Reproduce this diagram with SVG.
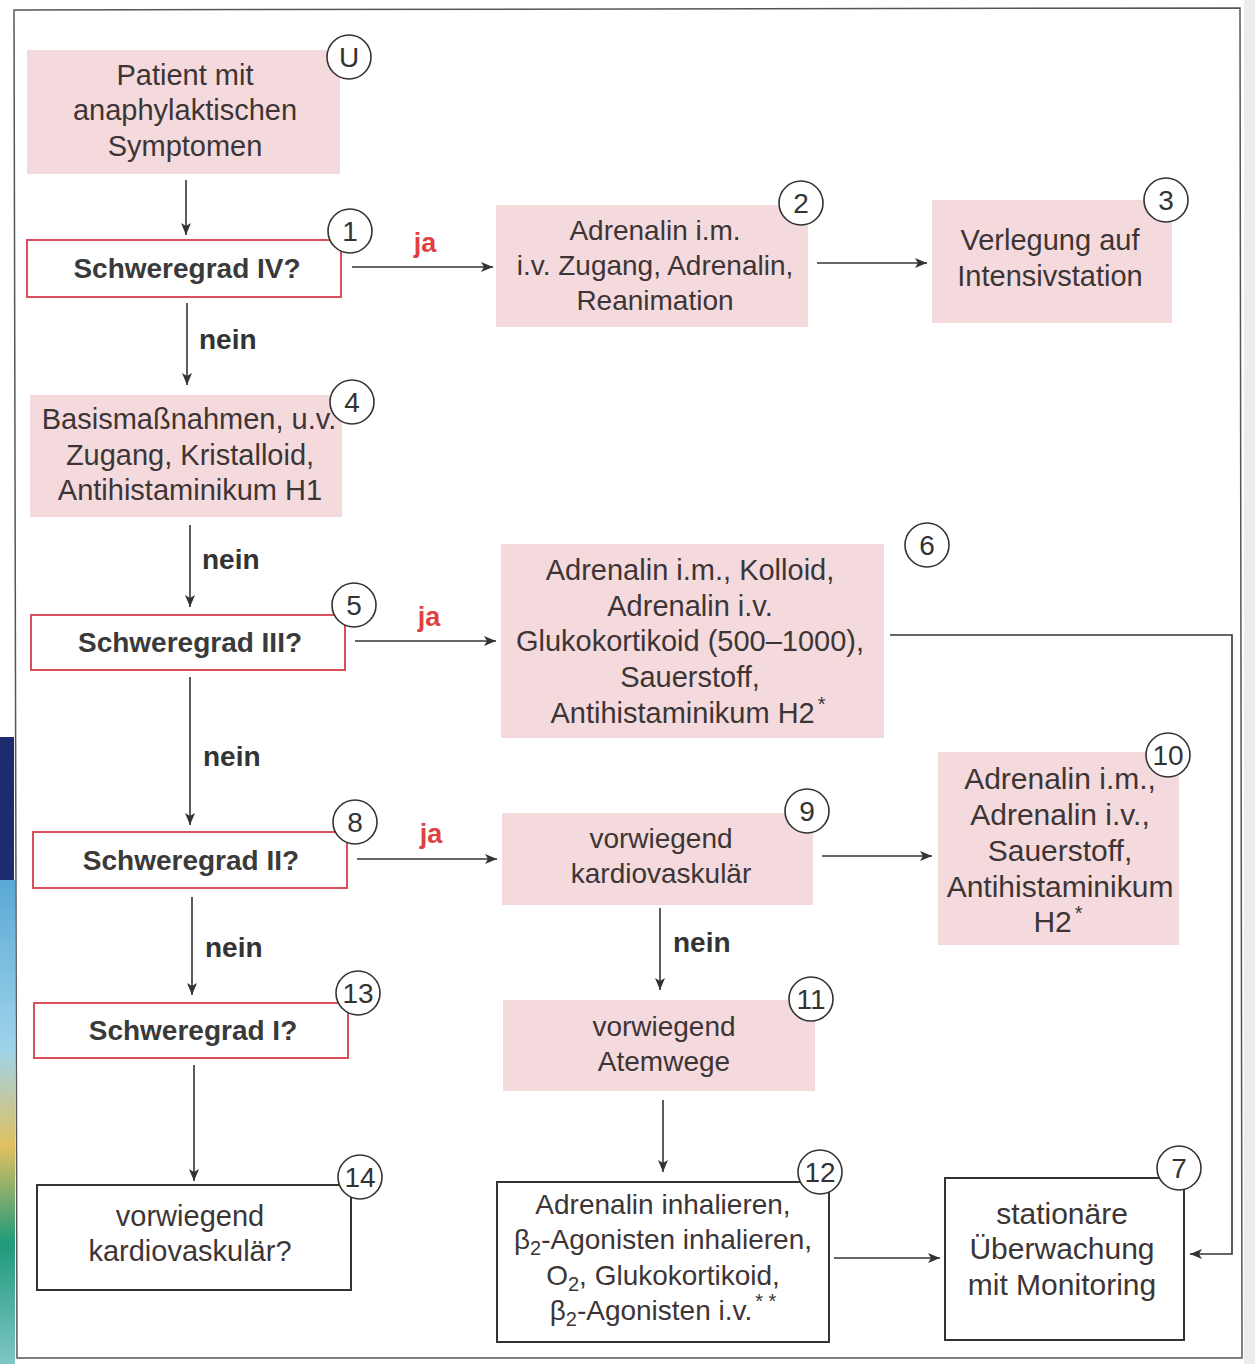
<svg xmlns="http://www.w3.org/2000/svg" width="1255" height="1364" viewBox="0 0 1255 1364">
<defs>
<marker id="ah" viewBox="0 0 12 10" refX="12" refY="5" markerWidth="12" markerHeight="10" markerUnits="userSpaceOnUse" orient="auto">
<path d="M0,0 L12,5 L0,10 L3,5 z" fill="#333"/>
</marker>
<linearGradient id="lg" x1="0" y1="0" x2="0" y2="1">
<stop offset="0" stop-color="#5aa9d6"/>
<stop offset="0.35" stop-color="#9fd3ea"/>
<stop offset="0.55" stop-color="#e0c060"/>
<stop offset="0.75" stop-color="#1f9a7a"/>
<stop offset="1" stop-color="#7fc6c8"/>
</linearGradient>
<style>
.pink{fill:#f4dadd;stroke:none}
.red{fill:#fff;stroke:#d9505a;stroke-width:2}
.wb{fill:#fff;stroke:#333;stroke-width:2}
.t{font-family:"Liberation Sans",Arial,sans-serif;font-size:28px;fill:#3d3535;text-anchor:middle}
.t29{font-size:29px}
.t30{font-size:30px}
.tw{font-family:"Liberation Sans",Arial,sans-serif;font-size:29px;fill:#3d3535;text-anchor:middle}
.b{font-family:"Liberation Sans",Arial,sans-serif;font-weight:bold;font-size:28px;fill:#3a3a3a;text-anchor:middle}
.lab{font-family:"Liberation Sans",Arial,sans-serif;font-weight:bold;font-size:28px;fill:#333}
.ja{font-family:"Liberation Sans",Arial,sans-serif;font-weight:bold;font-size:27px;fill:#e04040;text-anchor:middle}
.c{fill:#fff;stroke:#333;stroke-width:1.6}
.n{font-family:"Liberation Sans",Arial,sans-serif;font-size:28px;fill:#333;text-anchor:middle}
.ln{fill:none;stroke:#333;stroke-width:1.6}
</style>
</defs>
<rect width="1255" height="1364" fill="#ffffff"/>
<rect x="0" y="737" width="14" height="143" fill="#1c2c6e"/>
<rect x="0" y="880" width="15" height="484" fill="url(#lg)"/>
<rect x="1244" y="0" width="11" height="1364" fill="#ececec"/>
<path d="M14,10 L1240,8 L1242,1358 L17,1358 Z" fill="none" stroke="#555" stroke-width="1.5"/>

<g id="connectors">
<line class="ln" x1="186" y1="180" x2="186" y2="235" marker-end="url(#ah)"/>
<line class="ln" x1="352" y1="267" x2="493" y2="267" marker-end="url(#ah)"/>
<text class="ja" x="425" y="252">ja</text>
<line class="ln" x1="817" y1="263" x2="927" y2="263" marker-end="url(#ah)"/>
<line class="ln" x1="187" y1="303" x2="187" y2="385" marker-end="url(#ah)"/>
<text class="lab" x="199" y="349">nein</text>
<line class="ln" x1="190" y1="525" x2="190" y2="607" marker-end="url(#ah)"/>
<text class="lab" x="202" y="569">nein</text>
<line class="ln" x1="355" y1="641" x2="496" y2="641" marker-end="url(#ah)"/>
<text class="ja" x="429" y="626">ja</text>
<polyline class="ln" points="890,635 1232,635 1232,1254 1190,1254" marker-end="url(#ah)"/>
<line class="ln" x1="190" y1="677" x2="190" y2="825" marker-end="url(#ah)"/>
<text class="lab" x="203" y="766">nein</text>
<line class="ln" x1="357" y1="859" x2="497" y2="859" marker-end="url(#ah)"/>
<text class="ja" x="431" y="843">ja</text>
<line class="ln" x1="822" y1="856" x2="932" y2="856" marker-end="url(#ah)"/>
<line class="ln" x1="660" y1="908" x2="660" y2="990" marker-end="url(#ah)"/>
<text class="lab" x="673" y="952">nein</text>
<line class="ln" x1="663" y1="1100" x2="663" y2="1172" marker-end="url(#ah)"/>
<line class="ln" x1="834" y1="1258" x2="940" y2="1258" marker-end="url(#ah)"/>
<line class="ln" x1="192" y1="897" x2="192" y2="995" marker-end="url(#ah)"/>
<text class="lab" x="205" y="957">nein</text>
<line class="ln" x1="194" y1="1065" x2="194" y2="1181" marker-end="url(#ah)"/>
</g>

<g id="nodeU">
<rect class="pink" x="27" y="50" width="313" height="124"/>
<text class="tw" x="185" y="85">Patient mit</text>
<text class="tw" x="185" y="120">anaphylaktischen</text>
<text class="tw" x="185" y="156">Symptomen</text>
<circle class="c" cx="349" cy="57" r="22"/><text class="n" x="349" y="67">U</text>
</g>
<g id="node1">
<rect class="red" x="27" y="240" width="314" height="57"/>
<text class="b" x="187" y="278">Schweregrad IV?</text>
<circle class="c" cx="350" cy="231" r="22"/><text class="n" x="350" y="241">1</text>
</g>
<g id="node2">
<rect class="pink" x="496" y="205" width="312" height="122"/>
<text class="t" x="655" y="240">Adrenalin i.m.</text>
<text class="t" x="655" y="275">i.v. Zugang, Adrenalin,</text>
<text class="t" x="655" y="310">Reanimation</text>
<circle class="c" cx="801" cy="203" r="22"/><text class="n" x="801" y="213">2</text>
</g>
<g id="node3">
<rect class="pink" x="932" y="200" width="240" height="123"/>
<text class="t t29" x="1050" y="250">Verlegung auf</text>
<text class="t t29" x="1050" y="286">Intensivstation</text>
<circle class="c" cx="1166" cy="200" r="22"/><text class="n" x="1166" y="210">3</text>
</g>
<g id="node4">
<rect class="pink" x="30" y="395" width="312" height="122"/>
<text class="tw" x="189" y="429" font-size="28">Basismaßnahmen, u.v.</text>
<text class="tw" x="190" y="465">Zugang, Kristalloid,</text>
<text class="tw" x="190" y="500">Antihistaminikum H1</text>
<circle class="c" cx="352" cy="402" r="22"/><text class="n" x="352" y="412">4</text>
</g>
<g id="node5">
<rect class="red" x="31" y="615" width="314" height="55"/>
<text class="b" x="190" y="652">Schweregrad III?</text>
<circle class="c" cx="354" cy="605" r="22"/><text class="n" x="354" y="615">5</text>
</g>
<g id="node6">
<rect class="pink" x="501" y="544" width="383" height="194"/>
<text class="t t29" x="690" y="580">Adrenalin i.m., Kolloid,</text>
<text class="t t29" x="690" y="616">Adrenalin i.v.</text>
<text class="t t29" x="690" y="651">Glukokortikoid (500–1000),</text>
<text class="t t29" x="690" y="687">Sauerstoff,</text>
<text class="t t29" x="688" y="723">Antihistaminikum H2<tspan font-size="20" dx="3" dy="-12">*</tspan></text>
<circle class="c" cx="927" cy="545" r="22"/><text class="n" x="927" y="555">6</text>
</g>
<g id="node7">
<rect class="wb" x="945" y="1178" width="239" height="162"/>
<text class="t t30" x="1062" y="1224">stationäre</text>
<text class="t t30" x="1062" y="1259">Überwachung</text>
<text class="t t30" x="1062" y="1295">mit Monitoring</text>
<circle class="c" cx="1179" cy="1168" r="22"/><text class="n" x="1179" y="1178">7</text>
</g>
<g id="node8">
<rect class="red" x="33" y="832" width="314" height="56"/>
<text class="b" x="191" y="870">Schweregrad II?</text>
<circle class="c" cx="355" cy="822" r="22"/><text class="n" x="355" y="832">8</text>
</g>
<g id="node9">
<rect class="pink" x="502" y="813" width="311" height="92"/>
<text class="t" x="661" y="848">vorwiegend</text>
<text class="t" x="661" y="883">kardiovaskulär</text>
<circle class="c" cx="807" cy="811" r="22"/><text class="n" x="807" y="821">9</text>
</g>
<g id="node10">
<rect class="pink" x="938" y="752" width="241" height="193"/>
<text class="t t30" x="1060" y="789">Adrenalin i.m.,</text>
<text class="t t30" x="1060" y="825">Adrenalin i.v.,</text>
<text class="t t30" x="1060" y="861">Sauerstoff,</text>
<text class="t t30" x="1060" y="897">Antihistaminikum</text>
<text class="t t30" x="1058" y="932">H2<tspan font-size="20" dx="3" dy="-12">*</tspan></text>
<circle class="c" cx="1168" cy="755" r="22"/><text class="n" x="1168" y="765">10</text>
</g>
<g id="node11">
<rect class="pink" x="503" y="1000" width="312" height="91"/>
<text class="t" x="664" y="1036">vorwiegend</text>
<text class="t" x="664" y="1071">Atemwege</text>
<circle class="c" cx="811" cy="999" r="22"/><text class="n" x="811" y="1009">11</text>
</g>
<g id="node12">
<rect class="wb" x="497" y="1182" width="332" height="160"/>
<text class="t" x="663" y="1214">Adrenalin inhalieren,</text>
<text class="t" x="663" y="1249">β<tspan font-size="20" dy="6">2</tspan><tspan dy="-6">-Agonisten inhalieren,</tspan></text>
<text class="t" x="663" y="1285">O<tspan font-size="20" dy="6">2</tspan><tspan dy="-6">, Glukokortikoid,</tspan></text>
<text class="t" x="663" y="1320">β<tspan font-size="20" dy="6">2</tspan><tspan dy="-6">-Agonisten i.v.</tspan><tspan font-size="20" dx="3" dy="-12">* *</tspan></text>
<circle class="c" cx="820" cy="1172" r="22"/><text class="n" x="820" y="1182">12</text>
</g>
<g id="node13">
<rect class="red" x="34" y="1003" width="314" height="55"/>
<text class="b" x="193" y="1040">Schweregrad I?</text>
<circle class="c" cx="358" cy="993" r="22"/><text class="n" x="358" y="1003">13</text>
</g>
<g id="node14">
<rect class="wb" x="37" y="1185" width="314" height="105"/>
<text class="tw" x="190" y="1226">vorwiegend</text>
<text class="tw" x="190" y="1261">kardiovaskulär?</text>
<circle class="c" cx="360" cy="1177" r="22"/><text class="n" x="360" y="1187">14</text>
</g>
</svg>
